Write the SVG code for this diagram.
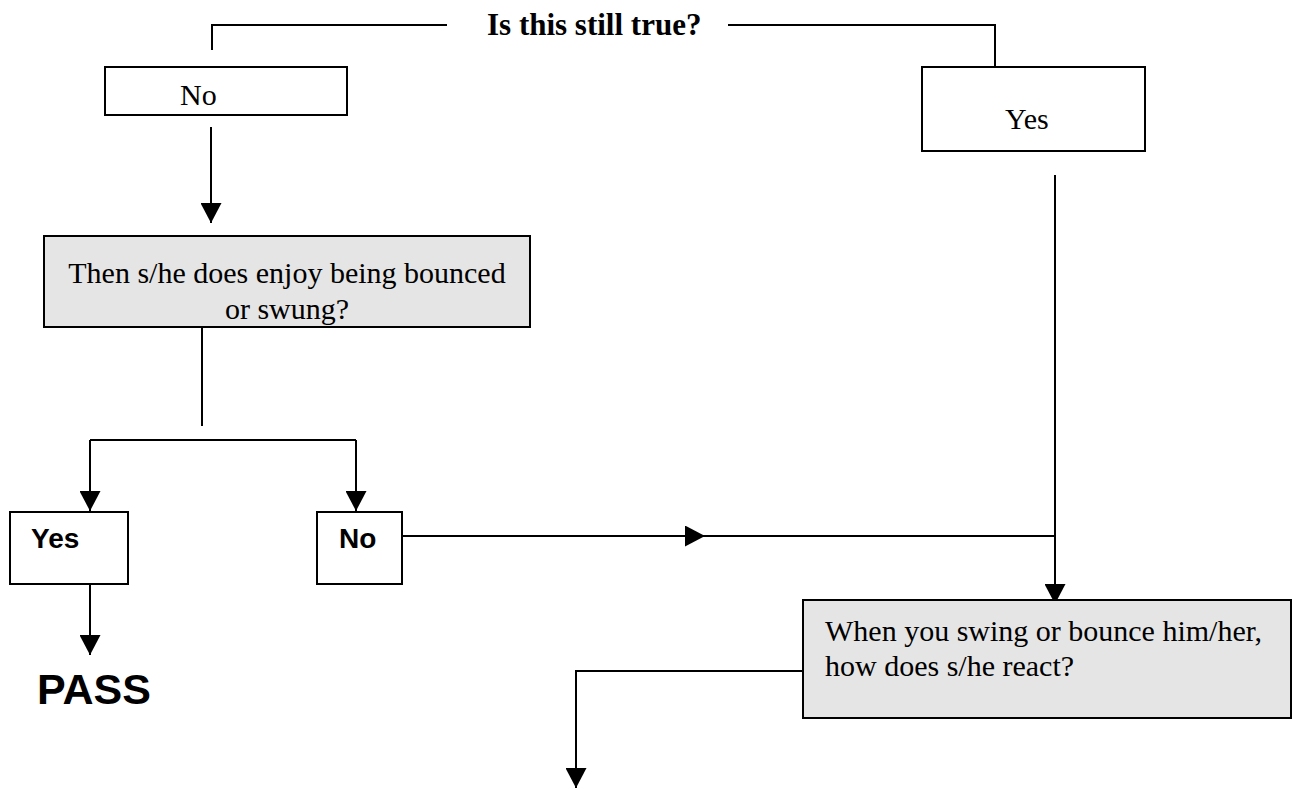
<svg xmlns="http://www.w3.org/2000/svg" width="1293" height="789" viewBox="0 0 1293 789">
<style>
.ln{fill:none;stroke:#000;stroke-width:2}
.bx{fill:#fff;stroke:#000;stroke-width:2}
.gb{fill:#e5e5e5;stroke:#000;stroke-width:2}
.tm{font-family:"Liberation Serif","Times New Roman",serif;font-size:30px;fill:#000}
.tb{font-family:"Liberation Serif","Times New Roman",serif;font-size:31px;font-weight:bold;fill:#000}
.ab{font-family:"Liberation Sans",Arial,sans-serif;font-weight:bold;fill:#000}
</style>
<defs>
<marker id="ah" viewBox="0 0 20 21" refX="20" refY="10.5" markerWidth="20" markerHeight="21" markerUnits="userSpaceOnUse" orient="auto">
<path d="M0,0 L20,10.5 L0,21 Z" fill="#000"/>
</marker>
</defs>
<g id="connectors">
<path class="ln" d="M212,50 V25 H447"/>
<path class="ln" d="M728,25 H995 V67"/>
<path class="ln" d="M211,127 V223" marker-end="url(#ah)"/>
<path class="ln" d="M202,327 V426"/>
<path class="ln" d="M90,440 H356"/>
<path class="ln" d="M90,440 V511" marker-end="url(#ah)"/>
<path class="ln" d="M356,440 V511" marker-end="url(#ah)"/>
<path class="ln" d="M90,584 V655" marker-end="url(#ah)"/>
<path class="ln" d="M402,536 H705" marker-end="url(#ah)"/>
<path class="ln" d="M705,536 H1055"/>
<path class="ln" d="M1055,175 V604" marker-end="url(#ah)"/>
<path class="ln" d="M803,671 H576 V788" marker-end="url(#ah)"/>
</g>
<g id="title">
<text class="tb" x="487" y="35">Is this still true?</text>
</g>
<g id="no-top">
<rect class="bx" x="105" y="67" width="242" height="48"/>
<text class="tm" x="180" y="105">No</text>
</g>
<g id="yes-top">
<rect class="bx" x="922" y="67" width="223" height="84"/>
<text class="tm" x="1005" y="129">Yes</text>
</g>
<g id="enjoy">
<rect class="gb" x="44" y="236" width="486" height="91"/>
<text class="tm" x="287" y="283" text-anchor="middle">Then s/he does enjoy being bounced</text>
<text class="tm" x="287" y="319" text-anchor="middle">or swung?</text>
</g>
<g id="yes-2">
<rect class="bx" x="10" y="512" width="118" height="72"/>
<text class="ab" x="31" y="548" font-size="28">Yes</text>
</g>
<g id="no-2">
<rect class="bx" x="317" y="512" width="85" height="72"/>
<text class="ab" x="339" y="548" font-size="28">No</text>
</g>
<g id="pass">
<text class="ab" x="37" y="704" font-size="43">PASS</text>
</g>
<g id="react">
<rect class="gb" x="803" y="600" width="488" height="118"/>
<text class="tm" x="825" y="641">When you swing or bounce him/her,</text>
<text class="tm" x="825" y="676">how does s/he react?</text>
</g>
</svg>
